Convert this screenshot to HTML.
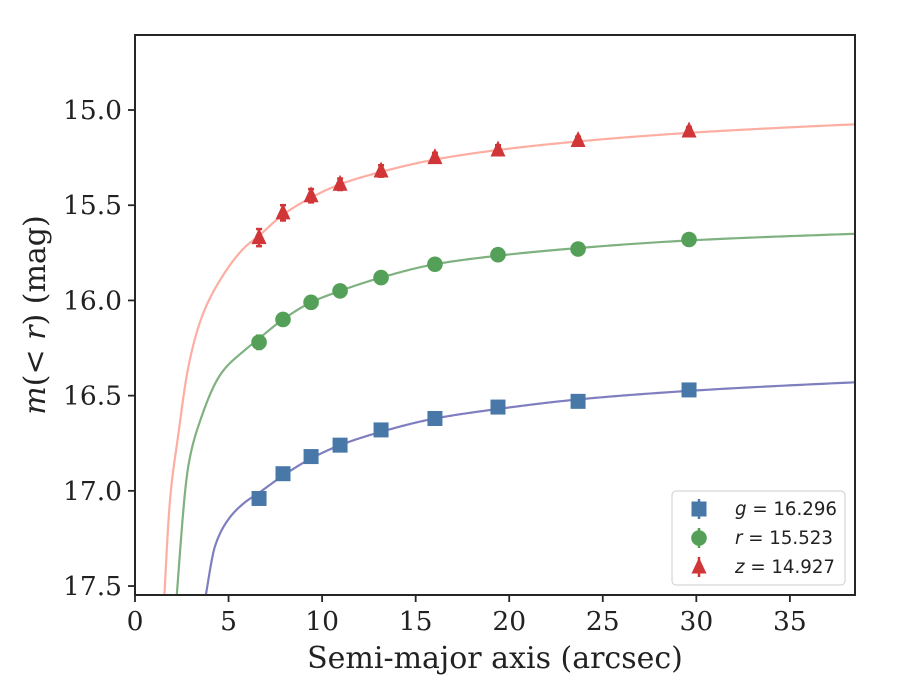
<!DOCTYPE html>
<html><head><meta charset="utf-8"><style>
html,body{margin:0;padding:0;background:#fff;width:900px;height:700px;overflow:hidden}
svg text{font-family:"DejaVu Serif","Liberation Serif",serif;fill:#222}
</style></head><body>
<svg id="chart" width="900" height="700" xmlns="http://www.w3.org/2000/svg"></svg>
<script>
const radii=[6.63,7.91,9.41,10.96,13.15,16.03,19.4,23.68,29.61];
const gMag=[17.04,16.91,16.82,16.76,16.68,16.62,16.56,16.53,16.47];
const rMag=[16.22,16.10,16.01,15.95,15.88,15.81,15.76,15.73,15.68];
const zMag=[15.67,15.54,15.45,15.39,15.32,15.25,15.21,15.16,15.11];
const gErr=[0.03,0.025,0.02,0.02,0.02,0.015,0.015,0.015,0.015];
const rErr=[0.035,0.03,0.03,0.025,0.02,0.015,0.015,0.015,0.015];
const zErr=[0.045,0.04,0.035,0.03,0.03,0.025,0.025,0.02,0.02];
const gCurveR=[3.78,4.28,4.99,5.88,6.63,7.91,9.41,10.96,13.15,16.03,19.4,23.68,29.61,38.48];
const gCurveM=[17.55,17.29,17.15,17.06,17.01,16.92,16.83,16.76,16.69,16.62,16.57,16.52,16.475,16.43];
const rCurveR=[2.23,2.85,3.56,4.63,5.88,6.63,7.91,9.41,10.96,13.15,16.03,19.4,23.68,29.61,38.48];
const rCurveM=[17.55,16.87,16.61,16.38,16.26,16.2,16.10,16.01,15.95,15.88,15.81,15.765,15.725,15.685,15.65];
const zCurveR=[1.57,1.87,2.32,2.85,3.56,4.63,5.88,6.63,7.91,9.41,10.96,13.15,16.03,19.4,23.68,29.61,38.48];
const zCurveM=[17.55,17.05,16.70,16.35,16.09,15.88,15.72,15.66,15.55,15.46,15.39,15.325,15.26,15.21,15.165,15.12,15.075];
const xTicks=[0,5,10,15,20,25,30,35];
const yTicks=[15.0,15.5,16.0,16.5,17.0,17.5];
const legendLabels=["16.296","15.523","14.927"];

const L=135,R=855,T=35,B=595;
const xMin=0,xMax=38.48,yMin=14.606,yMax=17.547;
const X=v=>L+(v-xMin)/(xMax-xMin)*(R-L);
const Y=v=>T+(v-yMin)/(yMax-yMin)*(B-T);
const svg=document.getElementById('chart');
const NS='http://www.w3.org/2000/svg';
function mk(tag,attrs,parent){const e=document.createElementNS(NS,tag);for(const k in attrs)e.setAttribute(k,attrs[k]);(parent||svg).appendChild(e);return e;}

const defs=mk('defs',{});
const cp=mk('clipPath',{id:'clip'},defs);mk('rect',{x:L,y:T,width:R-L,height:B-T},cp);

// monotone cubic (Fritsch-Carlson) interpolation of m vs ln(r)
function curvePath(rs,ms){
  const xs=rs.map(Math.log),n=xs.length;
  const d=[],h=[];
  for(let i=0;i<n-1;i++){h.push(xs[i+1]-xs[i]);d.push((ms[i+1]-ms[i])/h[i]);}
  const m=new Array(n);
  m[0]=d[0];m[n-1]=d[n-2];
  for(let i=1;i<n-1;i++){m[i]=(d[i-1]*d[i]<=0)?0:3*(h[i-1]+h[i])/((2*h[i]+h[i-1])/d[i-1]+(h[i]+2*h[i-1])/d[i]);}
  let path='';
  for(let i=0;i<n-1;i++){
    const steps=30;
    for(let s=(i===0?0:1);s<=steps;s++){
      const t=s/steps,t2=t*t,t3=t2*t;
      const v=(2*t3-3*t2+1)*ms[i]+(t3-2*t2+t)*h[i]*m[i]+(-2*t3+3*t2)*ms[i+1]+(t3-t2)*h[i]*m[i+1];
      const r=Math.exp(xs[i]+t*h[i]);
      path+=(path?'L':'M')+X(r).toFixed(2)+','+Y(v).toFixed(2);
    }
  }
  return path;
}
const cg=mk('g',{'clip-path':'url(#clip)'});
let c;
c=mk('path',{d:curvePath(zCurveR,zCurveM),fill:'none',stroke:'#fcaea2','stroke-width':2.2},cg);


c=mk('path',{d:curvePath(rCurveR,rCurveM),fill:'none',stroke:'#80b180','stroke-width':2.2},cg);


c=mk('path',{d:curvePath(gCurveR,gCurveM),fill:'none',stroke:'#7f7fc0','stroke-width':2.2},cg);



function marker(shape,cx,cy,color,parent){
  if(shape==='s')return mk('rect',{x:cx-7.5,y:cy-7.5,width:15,height:15,fill:color},parent);
  if(shape==='o')return mk('circle',{cx:cx,cy:cy,r:7.8,fill:color},parent);
  return mk('polygon',{points:`${cx},${cy-9.5} ${cx+7.5},${cy+6.5} ${cx-7.5},${cy+6.5}`,fill:color},parent);
}
function series(mags,errs,shape,color,name){
  const g=mk('g',{});
  
  
  radii.forEach((r,i)=>{
    const x=X(r),y1=Y(mags[i]-errs[i]),y2=Y(mags[i]+errs[i]);
    mk('line',{x1:x,x2:x,y1:y1,y2:y2,stroke:color,'stroke-width':2.5},g);
    mk('line',{x1:x-3,x2:x+3,y1:y1,y2:y1,stroke:color,'stroke-width':2.5},g);
    mk('line',{x1:x-3,x2:x+3,y1:y2,y2:y2,stroke:color,'stroke-width':2.5},g);
    const m=marker(shape,x,Y(mags[i]),color,g);
    
    
  });
}
series(gMag,gErr,'s','#4878a8','g-band');
series(rMag,rErr,'o','#55a058','r-band');
series(zMag,zErr,'^','#d03538','z-band');

const frame=mk('rect',{x:L,y:T,width:R-L,height:B-T,fill:'none',stroke:'#262626','stroke-width':2});



xTicks.forEach(v=>{
  const x=X(v);
  mk('line',{x1:x,x2:x,y1:B,y2:B+7,stroke:'#262626','stroke-width':1.8});
  const t=mk('text',{x:x,y:B+35,'text-anchor':'middle','font-size':26.5});
  t.textContent=v;
  
  
});
yTicks.forEach(v=>{
  const y=Y(v);
  mk('line',{x1:L-7,x2:L,y1:y,y2:y,stroke:'#262626','stroke-width':1.8});
  const t=mk('text',{x:L-13,y:y+9,'text-anchor':'end','font-size':26.5});
  t.textContent=v.toFixed(1);
  
  
});
const xt=mk('text',{x:495,y:668,'text-anchor':'middle','font-size':30});
xt.textContent='Semi-major axis (arcsec)';


const yt=mk('text',{x:0,y:0,'text-anchor':'middle','font-size':30,transform:'translate(45,315) rotate(-90)'});
yt.innerHTML='<tspan font-style="italic">m</tspan>(&lt; <tspan font-style="italic">r</tspan>) (mag)';



const lg=mk('g',{});


mk('rect',{x:672,y:491,width:173,height:94,rx:4,fill:'#fff',stroke:'#ccc','stroke-width':1},lg);
const names=['g','r','z'],shapes=['s','o','^'],cols=['#4878a8','#55a058','#d03538'];
names.forEach((n,i)=>{
  const y=509+i*29;
  const e=mk('g',{},lg);
  
  
  mk('line',{x1:699,x2:699,y1:y-10,y2:y+10,stroke:cols[i],'stroke-width':2.5},e);
  marker(shapes[i],699,y,cols[i],e);
  const t=mk('text',{x:735,y:y+6,'font-size':18.2,style:'font-family:"DejaVu Sans","Liberation Sans",sans-serif'},e);
  t.innerHTML='<tspan font-style="italic">'+n+'</tspan> = '+legendLabels[i];
});
</script>
</body></html>
